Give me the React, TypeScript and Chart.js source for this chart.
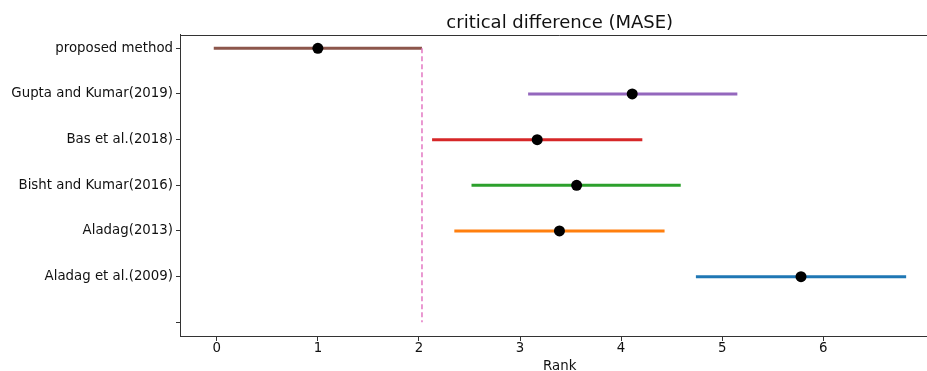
import React, { useEffect, useRef } from 'react';
import { Chart, registerables } from 'chart.js';

Chart.register(...registerables);

const methods = [
  'proposed method',
  'Gupta and Kumar(2019)',
  'Bas et al.(2018)',
  'Bisht and Kumar(2016)',
  'Aladag(2013)',
  'Aladag et al.(2009)',
];
const meanRanks = [1.0, 4.11, 3.17, 3.56, 3.39, 5.78];
const lowerBounds = [-0.03, 3.08, 2.13, 2.52, 2.35, 4.74];
const upperBounds = [2.03, 5.15, 4.21, 4.59, 4.43, 6.82];
const lineColors = ['#8c564b', '#9467bd', '#d62728', '#2ca02c', '#ff7f0e', '#1f77b4'];
const cdThreshold = 2.03;
const xTicks = [0, 1, 2, 3, 4, 5, 6];
const yTickLabels = [...methods, ''];

const FONT = "'DejaVu Sans', sans-serif";
const TEXT = '#111111';
const SPINE = '#333333';

const topSpine = {
  id: 'topSpine',
  afterDraw(chart: any) {
    const { ctx, chartArea } = chart;
    ctx.save();
    ctx.strokeStyle = SPINE;
    ctx.lineWidth = 1;
    ctx.beginPath();
    const y = Math.round(chartArea.top) + 0.5;
    ctx.moveTo(chartArea.left, y);
    ctx.lineTo(chartArea.right, y);
    ctx.stroke();
    ctx.restore();
  },
};

export default function App() {
  const ref = useRef<HTMLCanvasElement>(null);
  useEffect(() => {
    if (!ref.current) return;
    const lineSets = methods.map((m, i) => ({
      type: 'scatter' as const,
      label: m,
      data: [
        { x: lowerBounds[i], y: i },
        { x: upperBounds[i], y: i },
      ],
      showLine: true,
      borderColor: lineColors[i],
      backgroundColor: lineColors[i],
      borderWidth: 3,
      pointRadius: 0,
      order: 3,
    }));
    const chart = new Chart(ref.current, {
      type: 'scatter',
      data: {
        datasets: [
          {
            label: 'mean rank',
            data: meanRanks.map((r, i) => ({ x: r, y: i })),
            pointRadius: 5.5,
            pointBackgroundColor: '#000',
            pointBorderWidth: 0,
            backgroundColor: '#000',
            order: 1,
          },
          {
            label: 'cd',
            data: [
              { x: cdThreshold, y: 0 },
              { x: cdThreshold, y: methods.length },
            ],
            showLine: true,
            borderColor: '#e377c2',
            borderWidth: 1.5,
            borderDash: [5, 3],
            pointRadius: 0,
            order: 2,
          },
          ...lineSets,
        ] as any,
      },
      options: {
        responsive: false,
        animation: false,
        devicePixelRatio: 1,
        layout: { padding: { left: 0, right: 0, top: 0, bottom: 0 } },
        plugins: {
          legend: { display: false },
          tooltip: { enabled: false },
          title: {
            display: true,
            text: 'critical difference (MASE)',
            fullSize: false,
            color: TEXT,
            font: { family: FONT, size: 18, weight: 'normal', lineHeight: 1.2 },
            padding: { top: 13, bottom: 0 },
          },
        },
        scales: {
          x: {
            type: 'linear',
            min: -0.364,
            max: 7.15,
            afterFit: (s: any) => {
              s.height = 35;
            },
            afterBuildTicks: (s: any) => {
              s.ticks = xTicks.map((v) => ({ value: v }));
            },
            grid: { drawOnChartArea: false, drawTicks: true, tickLength: 5, color: SPINE },
            border: { display: true, color: SPINE, width: 1 },
            ticks: {
              color: TEXT,
              font: { family: FONT, size: 13.33 },
              padding: 0,
              maxRotation: 0,
              callback: (v: any) => String(v),
            },
            title: {
              display: true,
              text: 'Rank',
              color: TEXT,
              font: { family: FONT, size: 13.33, lineHeight: 0.7 },
              padding: 0,
            },
          },
          y: {
            type: 'linear',
            reverse: true,
            min: -0.3,
            max: 6.3,
            afterFit: (s: any) => {
              s.width = 180;
            },
            afterBuildTicks: (s: any) => {
              s.ticks = yTickLabels.map((_, i) => ({ value: i }));
            },
            grid: { drawOnChartArea: false, drawTicks: true, tickLength: 4, color: SPINE },
            border: { display: true, color: SPINE, width: 1 },
            ticks: {
              color: TEXT,
              font: { family: FONT, size: 13.33 },
              padding: 3,
              callback: (v: any) => yTickLabels[Math.round(Number(v))] ?? '',
            },
          },
        },
      },
      plugins: [topSpine],
    } as any);
    return () => chart.destroy();
  }, []);

  return (
    <div
      style={{
        position: 'fixed',
        left: 0,
        top: 0,
        width: 927,
        height: 371,
        overflow: 'hidden',
        background: '#fff',
      }}
    >
      <canvas ref={ref} width={945} height={371} style={{ display: 'block' }} />
    </div>
  );
}
